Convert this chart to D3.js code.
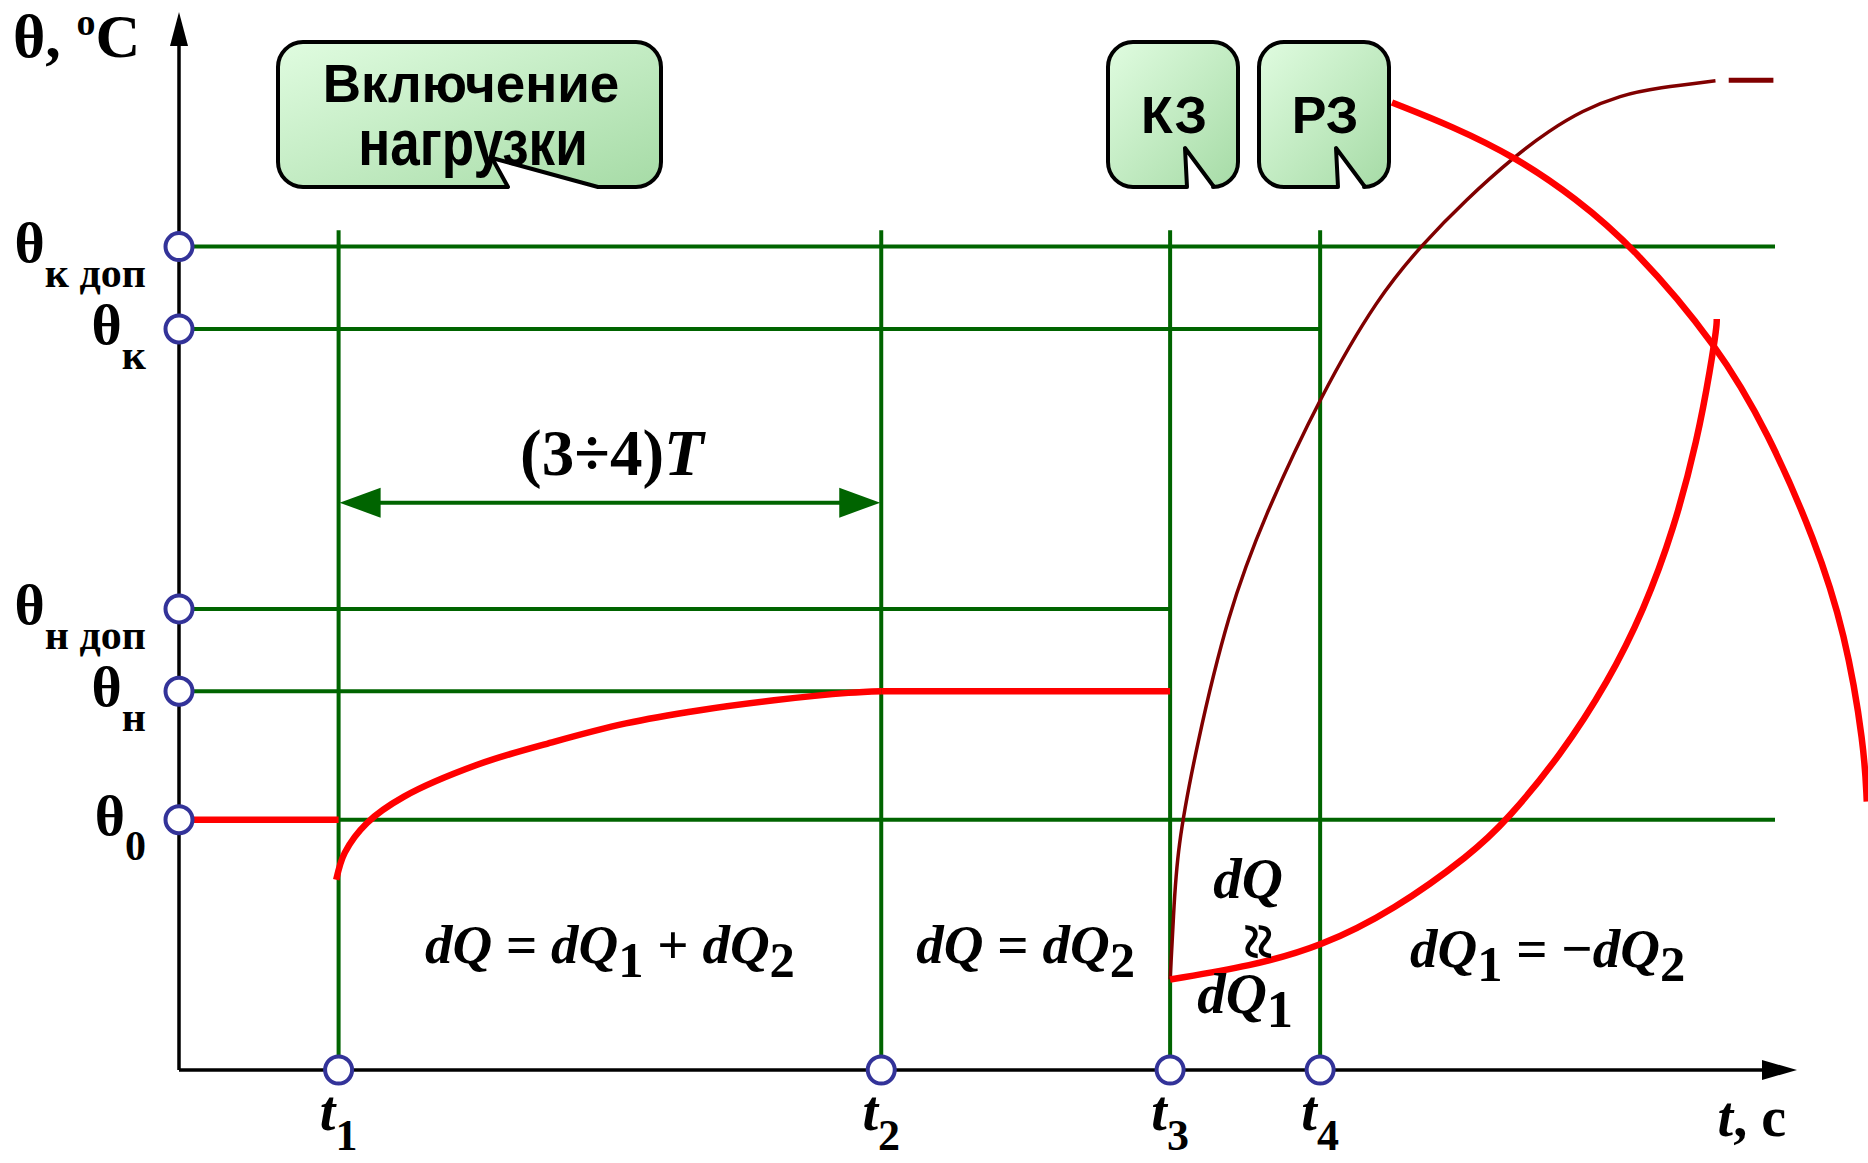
<!DOCTYPE html>
<html>
<head>
<meta charset="utf-8">
<script src="https://cdn.jsdelivr.net/npm/d3@7"></script>
<style>
  body { margin: 0; background: #fff; }
  svg { display: block; }
</style>
</head>
<body>
<svg width="1868" height="1163"></svg>
<script>

// time marks t1..t4 and temperature levels (relative units)
let tMarks = [10, 44, 62.1, 71.5];
let tNames = ["1", "2", "3", "4"];

let levels = [100, 90, 56, 46, 30.4];
let levelSubs = ["к доп", "к", "н доп", "н", "0"];
// where each green level line starts / ends (in t units)
let levelStart = [0, 0, 0, 0, 10];
let levelEnd = [100, 71.5, 62.1, 62.1, 100];

let vTop = 102;   // top of the t verticals

// red: initial level, heating after load switch-on, steady level
let theta0Seg = [[0, 30.4], [10, 30.4]];
let heating = [[9.85, 23.1], [10.39, 26.4], [11.78, 30.0], [14.1, 33.2], [18.73, 37.1],
               [23.37, 39.8], [28.0, 42.1], [32.64, 43.7], [37.28, 44.9], [41.95, 45.8], [44, 46]];
let steady = [[44, 46], [62.1, 46]];

// red: heating during short circuit
let scHeat = [[62.1, 11.0], [67.16, 12.62], [71.49, 14.93], [76.12, 19.41], [80.97, 26.21],
              [83.21, 30.34], [86.57, 38.22], [89.56, 47.19], [91.79, 55.88], [93.66, 65.64],
              [95.15, 76.63], [95.97, 85.39], [96.35, 90.31], [96.35, 91.2]];

// dark red: adiabatic heating curve
let adiab = [[62.1, 11.0], [62.31, 18.55], [62.53, 26.79], [63.73, 39.23], [65.74, 55.59],
             [67.98, 67.16], [71.57, 82.06], [75.14, 93.93], [77.91, 100.29], [80.6, 105.64],
             [83.8, 111.14], [85.82, 114.04], [87.91, 116.5], [90.3, 118.38], [92.69, 119.3], [96.27, 120.14]];
let adiabDash = [[97.1, 120.2], [99.9, 120.2]];

// red: cooling after relay protection
let cooling = [[76.0, 117.5], [79.8, 114.6], [83.8, 110.8], [87.5, 105.9], [91.1, 100], [96.4, 88.0],
               [99.6, 77.3], [102.5, 64.4], [104.4, 53.1], [105.6, 39.2], [105.75, 32.6]];

let width = 1868;
let height = 1163;

let green = "#006400";
let blue = "#333399";

var svg = d3.select("svg");

var x = d3.scaleLinear().domain([0, 100]).range([179, 1775]);
var y = d3.scaleLinear().domain([0, 100]).range([1070, 246.6]);

var line = d3.line()
    .x(function(d) { return x(d[0]); })
    .y(function(d) { return y(d[1]); })
    .curve(d3.curveCatmullRom.alpha(0.5));

//smoother line for the curves read off roughly
var smooth = d3.line()
    .x(function(d) { return x(d[0]); })
    .y(function(d) { return y(d[1]); })
    .curve(d3.curveBasis);

var defs = svg.append("defs");
var grad = defs.append("linearGradient").attr("id", "boxfill")
    .attr("x1", 0).attr("y1", 0).attr("x2", 1).attr("y2", 1);
grad.append("stop").attr("offset", "0%").attr("stop-color", "#e0fce0");
grad.append("stop").attr("offset", "100%").attr("stop-color", "#a6dba6");

//green level lines
svg.append("g").selectAll("line")
    .data(levels)
    .enter().append("line")
    .attr("x1", function(d, i) { return x(levelStart[i]); })
    .attr("x2", function(d, i) { return x(levelEnd[i]); })
    .attr("y1", function(d) { return y(d); })
    .attr("y2", function(d) { return y(d); })
    .attr("stroke", green)
    .attr("stroke-width", 4);

//green verticals at t1..t4
svg.append("g").selectAll("line")
    .data(tMarks)
    .enter().append("line")
    .attr("x1", function(d) { return x(d); })
    .attr("x2", function(d) { return x(d); })
    .attr("y1", y(0))
    .attr("y2", y(vTop))
    .attr("stroke", green)
    .attr("stroke-width", 4);

//double arrow (3÷4)T between t1 and t2
var arrowY = y(68.9);
var ax1 = x(tMarks[0]), ax2 = x(tMarks[1]);
svg.append("line")
    .attr("x1", ax1 + 30).attr("x2", ax2 - 30)
    .attr("y1", arrowY).attr("y2", arrowY)
    .attr("stroke", green).attr("stroke-width", 4);
svg.append("path")
    .attr("d", "M" + (ax1 + 1) + "," + arrowY + " L" + (ax1 + 42) + "," + (arrowY - 15) +
               " L" + (ax1 + 42) + "," + (arrowY + 15) + " Z")
    .attr("fill", green);
svg.append("path")
    .attr("d", "M" + (ax2 - 1) + "," + arrowY + " L" + (ax2 - 42) + "," + (arrowY - 15) +
               " L" + (ax2 - 42) + "," + (arrowY + 15) + " Z")
    .attr("fill", green);

//curves
var curves = svg.append("g").attr("fill", "none");
curves.append("path").attr("d", smooth(adiab)).attr("stroke", "#800000").attr("stroke-width", 3.5);
curves.append("path").attr("d", line(adiabDash)).attr("stroke", "#800000").attr("stroke-width", 5);
curves.append("path").attr("d", smooth(cooling)).attr("stroke", "#ff0000").attr("stroke-width", 6.5);
curves.append("path").attr("d", smooth(scHeat)).attr("stroke", "#ff0000").attr("stroke-width", 6.5);
curves.append("path").attr("d", line(heating)).attr("stroke", "#ff0000").attr("stroke-width", 6.5);
curves.append("path").attr("d", line(theta0Seg)).attr("stroke", "#ff0000").attr("stroke-width", 6.5);
curves.append("path").attr("d", line(steady)).attr("stroke", "#ff0000").attr("stroke-width", 6.5);

//axes
var x0 = x(0), y0 = y(0);
svg.append("line").attr("x1", x0).attr("x2", x0).attr("y1", y0).attr("y2", 40)
    .attr("stroke", "#000").attr("stroke-width", 3.5);
svg.append("path").attr("d", "M" + x0 + ",12 L" + (x0 - 9) + ",46 L" + (x0 + 9) + ",46 Z").attr("fill", "#000");
svg.append("line").attr("x1", x0).attr("x2", 1770).attr("y1", y0).attr("y2", y0)
    .attr("stroke", "#000").attr("stroke-width", 3.5);
svg.append("path").attr("d", "M1797," + y0 + " L1762," + (y0 - 10) + " L1762," + (y0 + 10) + " Z").attr("fill", "#000");

//blue circles on axes
svg.append("g").selectAll("circle")
    .data(levels)
    .enter().append("circle")
    .attr("cx", x0).attr("cy", function(d) { return y(d); })
    .attr("r", 13.5).attr("fill", "#fff").attr("stroke", blue).attr("stroke-width", 4);
svg.append("g").selectAll("circle")
    .data(tMarks)
    .enter().append("circle")
    .attr("cx", function(d) { return x(d); }).attr("cy", y0)
    .attr("r", 13.5).attr("fill", "#fff").attr("stroke", blue).attr("stroke-width", 4);

//labels
var serif = "'Liberation Serif', 'Times New Roman', serif";

var lab = svg.append("g").selectAll("text")
    .data(levels)
    .enter().append("text")
    .attr("x", 146)
    .attr("y", function(d) { return y(d) + 15; })
    .attr("text-anchor", "end")
    .attr("font-family", serif)
    .attr("font-weight", "bold")
    .attr("font-size", 58);
lab.append("tspan").text("θ");
lab.append("tspan").attr("font-size", 42).attr("dy", 25)
    .text(function(d, i) { return levelSubs[i]; });

var tl = svg.append("g").selectAll("text")
    .data(tMarks)
    .enter().append("text")
    .attr("x", function(d) { return x(d); })
    .attr("y", 1130)
    .attr("text-anchor", "middle")
    .attr("font-family", serif)
    .attr("font-weight", "bold")
    .attr("font-size", 56);
tl.append("tspan").attr("font-style", "italic").text("t");
tl.append("tspan").attr("font-size", 44).attr("dy", 20)
    .text(function(d, i) { return tNames[i]; });

var yl = svg.append("text").attr("x", 13).attr("y", 57)
    .attr("font-family", serif).attr("font-weight", "bold").attr("font-size", 62);
yl.append("tspan").text("θ, ");
yl.append("tspan").attr("font-size", 38).attr("dy", -22).text("o");
yl.append("tspan").attr("dy", 22).text("C");

var xl = svg.append("text").attr("x", 1786).attr("y", 1136).attr("text-anchor", "end")
    .attr("font-family", serif).attr("font-weight", "bold").attr("font-size", 56);
xl.append("tspan").attr("font-style", "italic").text("t");
xl.append("tspan").text(", c");

svg.append("text").attr("x", (ax1 + ax2) / 2 + 2).attr("y", y(72.3))
    .attr("text-anchor", "middle")
    .attr("font-family", serif).attr("font-weight", "bold").attr("font-size", 65)
    .call(function(t) {
        t.append("tspan").text("(3÷4)");
        t.append("tspan").attr("font-style", "italic").text("T");
    });

// formula: parts are [text, kind]  kind: i = italic, s = subscript, n = normal
function formula(cx, cy, parts, size) {
    size = size || 55;
    var t = svg.append("text").attr("x", cx).attr("y", cy)
        .attr("text-anchor", "middle")
        .attr("font-family", serif).attr("font-weight", "bold").attr("font-size", size);
    var down = false;
    parts.forEach(function(p) {
        var s = t.append("tspan").text(p[0]);
        if (p[1] == "i") s.attr("font-style", "italic");
        if (p[1] == "s") { s.attr("font-size", size * 0.92).attr("dy", 14); down = true; }
        else if (down) { s.attr("dy", -14); down = false; }
    });
    return t;
}

formula(x((tMarks[0] + tMarks[1]) / 2), y(13),
    [["dQ", "i"], [" = ", "n"], ["dQ", "i"], ["1", "s"], [" + ", "n"], ["dQ", "i"], ["2", "s"]]);
formula(x((tMarks[1] + tMarks[2]) / 2), y(13),
    [["dQ", "i"], [" = ", "n"], ["dQ", "i"], ["2", "s"]]);
formula(x((tMarks[3] + 100) / 2), y(12.5),
    [["dQ", "i"], ["1", "s"], [" = −", "n"], ["dQ", "i"], ["2", "s"]]);
var mid34 = x((tMarks[2] + tMarks[3]) / 2);
formula(mid34 + 3, y(20.9), [["dQ", "i"]], 57);
formula(mid34, y(6.9), [["dQ", "i"], ["1", "s"]], 57);
svg.append("text")
    .attr("transform", "translate(" + (mid34 + 11) + "," + y(15.6) + ") rotate(90)")
    .attr("text-anchor", "middle").attr("dy", "0.3em")
    .attr("font-family", serif).attr("font-weight", "bold").attr("font-size", 66)
    .text("≈");

//callout boxes
function boxPath(x0, y0, x1, y1, r, notch) {
    return "M" + (x0 + r) + "," + y0 +
        " H" + (x1 - r) + " A" + r + "," + r + " 0 0 1 " + x1 + "," + (y0 + r) +
        " V" + (y1 - r) + " A" + r + "," + r + " 0 0 1 " + (x1 - r) + "," + y1 +
        " H" + notch[0] + " L" + notch[1] + "," + notch[2] + " L" + notch[3] + "," + y1 +
        " H" + (x0 + r) + " A" + r + "," + r + " 0 0 1 " + x0 + "," + (y1 - r) +
        " V" + (y0 + r) + " A" + r + "," + r + " 0 0 1 " + (x0 + r) + "," + y0 + " Z";
}

var sans = "'Liberation Sans', Arial, sans-serif";
var boxes = [
    {x0: 278, x1: 661, notch: [598, 492, 158, 508], lines: ["Включение", "нагрузки"], cx: 471},
    {x0: 1108, x1: 1238, notch: [1214, 1185, 148, 1187], lines: ["КЗ"], cx: 1174},
    {x0: 1259, x1: 1389, notch: [1365, 1336, 148, 1338], lines: ["РЗ"], cx: 1325}
];
boxes.forEach(function(b) {
    svg.append("path").attr("d", boxPath(b.x0, 42, b.x1, 187, 25, b.notch))
        .attr("fill", "url(#boxfill)").attr("stroke", "#000").attr("stroke-width", 4)
        .attr("stroke-linejoin", "round");
    if (b.lines.length == 1) {
        svg.append("text").attr("x", b.cx).attr("y", 133).attr("text-anchor", "middle")
            .attr("font-family", sans).attr("font-weight", "bold").attr("font-size", 52)
            .text(b.lines[0]);
    } else {
        svg.append("text").attr("x", b.cx).attr("y", 102).attr("text-anchor", "middle")
            .attr("font-family", sans).attr("font-weight", "bold").attr("font-size", 53)
            .text(b.lines[0]);
        svg.append("text").attr("transform", "translate(" + (b.cx + 2) + ",165) scale(1,1.22)")
            .attr("text-anchor", "middle")
            .attr("font-family", sans).attr("font-weight", "bold").attr("font-size", 53)
            .text(b.lines[1]);
    }
});

</script>
</body>
</html>
